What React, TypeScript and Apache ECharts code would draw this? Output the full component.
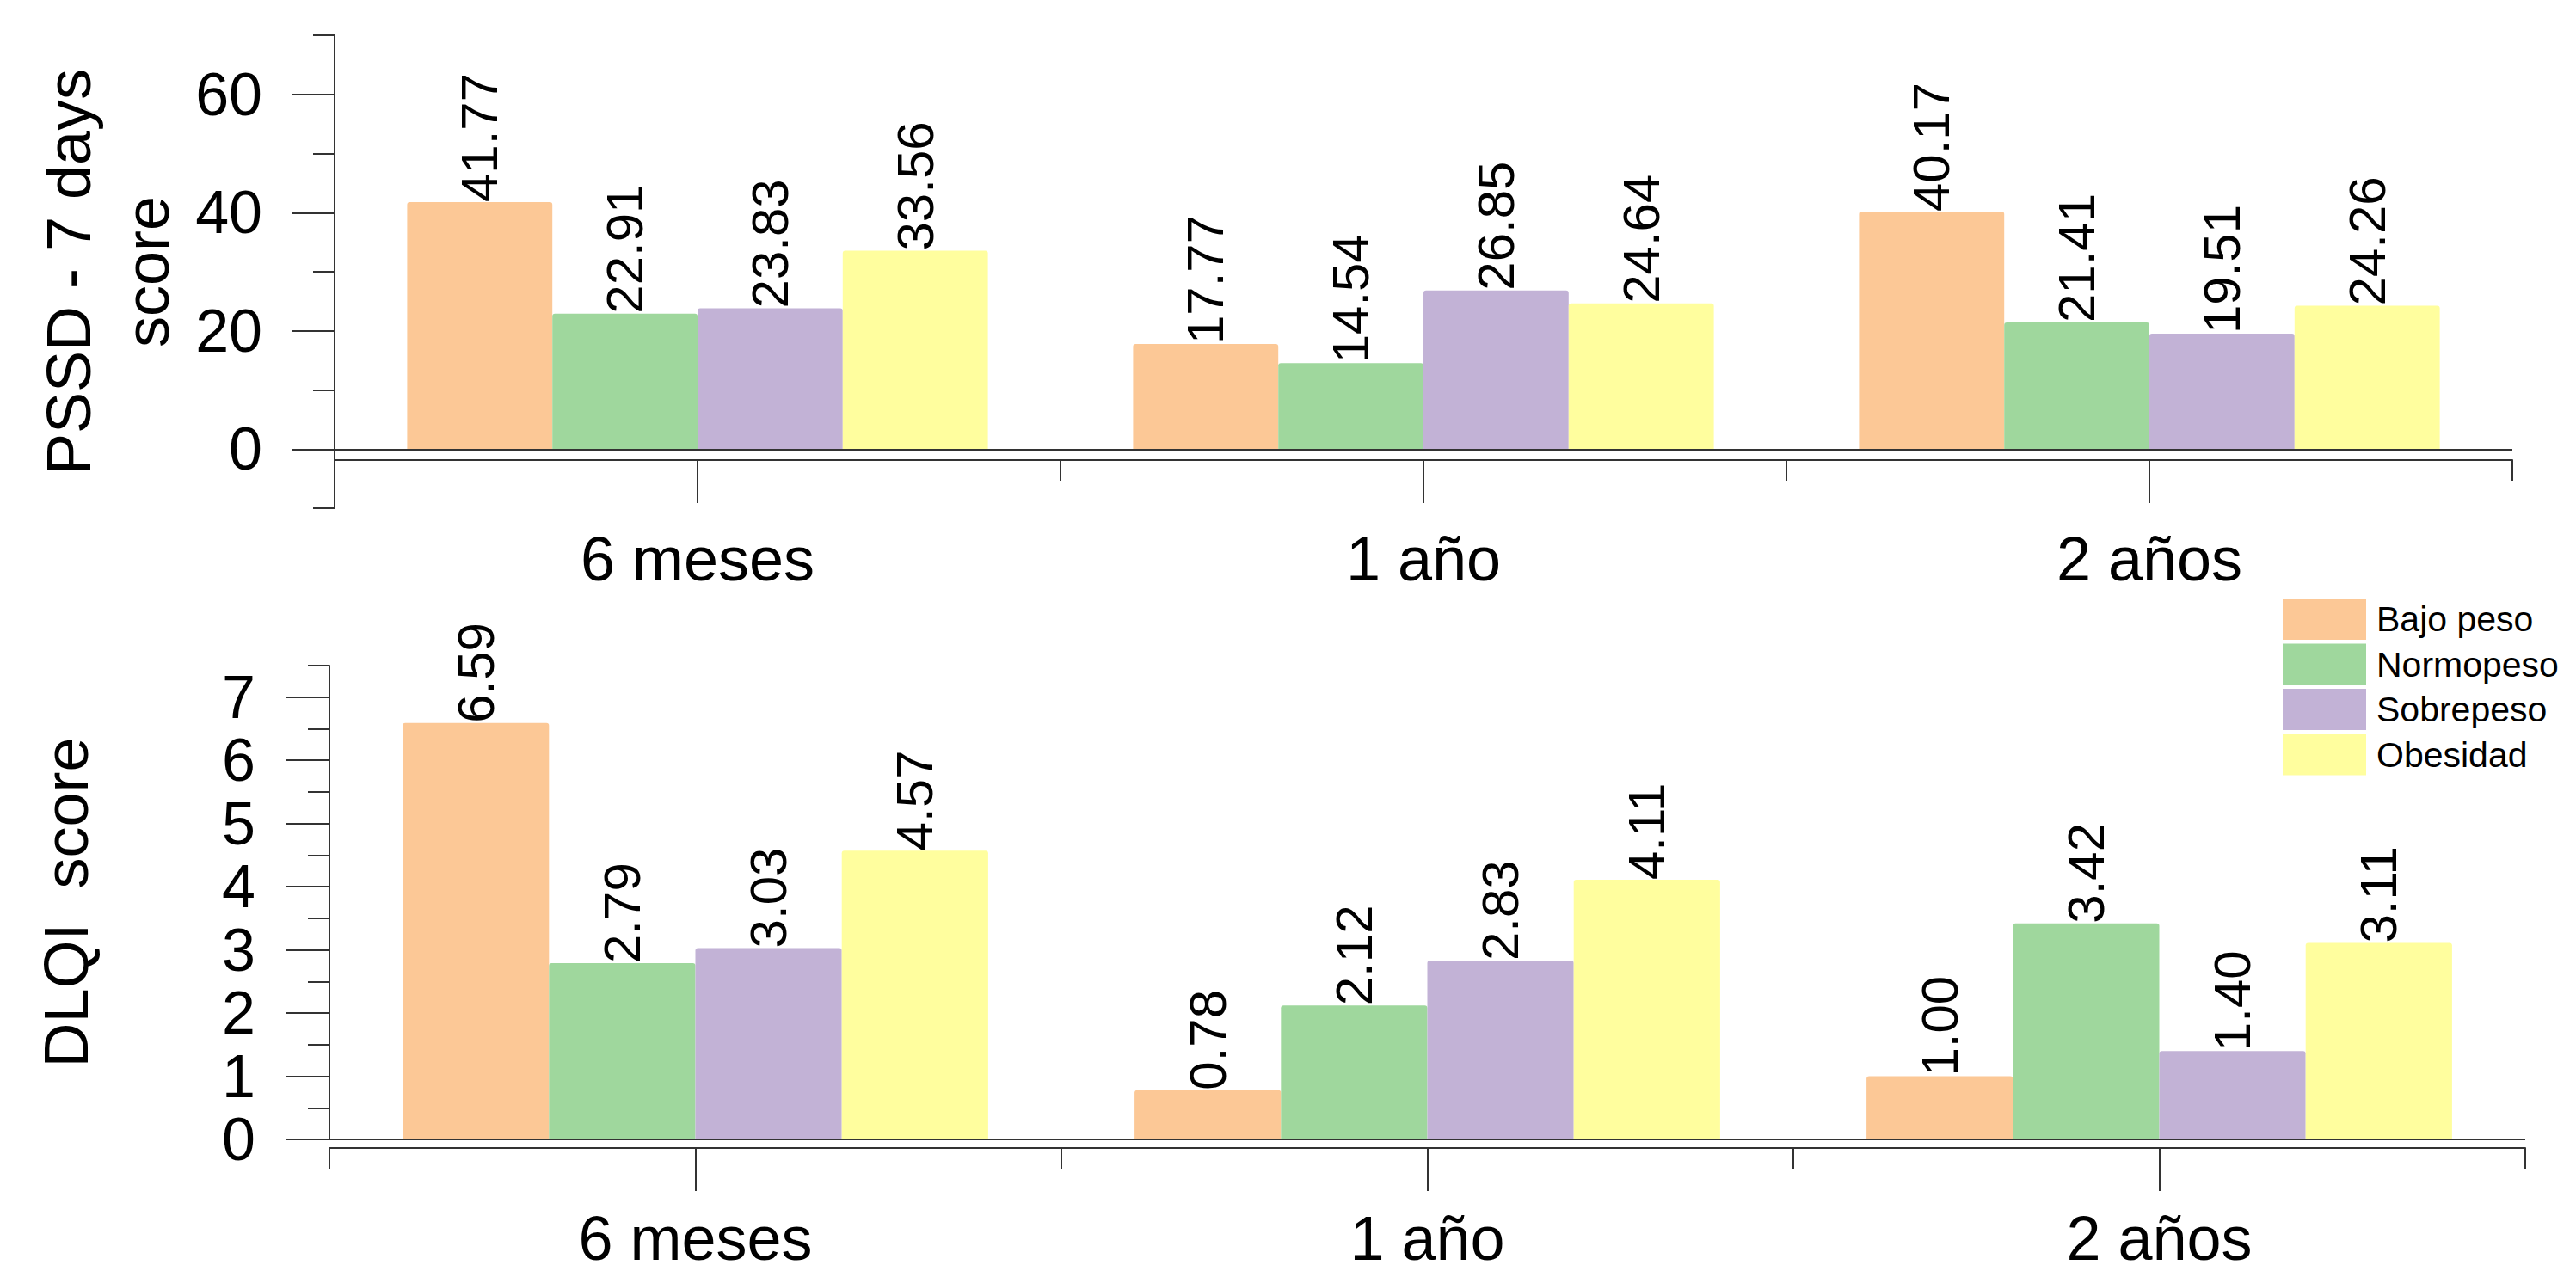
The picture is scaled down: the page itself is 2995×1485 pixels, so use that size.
import React, { useEffect, useRef } from "react";
import * as echarts from "echarts";

const categories = ["6 meses", "1 año", "2 años"];
const groups = ["Bajo peso", "Normopeso", "Sobrepeso", "Obesidad"];
const colors = ["#FCC896", "#9FD79D", "#C2B2D6", "#FFFE9E"];

const pssdBajo = [41.77, 17.77, 40.17];
const pssdNormo = [22.91, 14.54, 21.41];
const pssdSobre = [23.83, 26.85, 19.51];
const pssdObes = [33.56, 24.64, 24.26];

const dlqiBajo = [6.59, 0.78, 1.0];
const dlqiNormo = [2.79, 2.12, 3.42];
const dlqiSobre = [3.03, 2.83, 1.4];
const dlqiObes = [4.57, 4.11, 3.11];

const pssdMajor = [0, 20, 40, 60];
const pssdMinor = [-10, 10, 30, 50, 70];
const dlqiMajor = [0, 1, 2, 3, 4, 5, 6, 7];
const dlqiMinor = [0.5, 1.5, 2.5, 3.5, 4.5, 5.5, 6.5, 7.5];

const FONT = "'Liberation Sans', Arial, sans-serif";
const LINE = "#333";

function buildOption() {
  const pssd = [pssdBajo, pssdNormo, pssdSobre, pssdObes];
  const dlqi = [dlqiBajo, dlqiNormo, dlqiSobre, dlqiObes];

  const zeroLine = {
    silent: true,
    symbol: ["none", "none"],
    label: { show: false },
    lineStyle: { color: LINE, width: 2, type: "solid" },
    data: [{ yAxis: 0 }],
  };

  const mkSeries = (vals: number[], i: number, axisIdx: number) => ({
    type: "bar",
    name: groups[i],
    xAxisIndex: axisIdx,
    yAxisIndex: axisIdx,
    data: vals,
    barGap: "0%",
    barCategoryGap: "20%",
    itemStyle: { color: colors[i], borderRadius: [3, 3, 0, 0] },
    label: {
      show: true,
      position: "top",
      rotate: 90,
      align: "left",
      verticalAlign: "middle",
      distance: 0,
      fontSize: 60,
      fontFamily: FONT,
      color: "#000",
      formatter: (p: any) => Number(p.value).toFixed(2),
    },
    markLine: i === 0 ? zeroLine : undefined,
  });

  const series: any[] = [];
  pssd.forEach((v, i) => series.push(mkSeries(v, i, 0)));
  dlqi.forEach((v, i) => series.push(mkSeries(v, i, 2)));

  const catAxis = (gridIndex: number, withLabels: boolean, offset: number, margin: number) => ({
    type: "category",
    gridIndex,
    data: categories,
    position: "bottom",
    offset,
    axisLine: { show: !withLabels, onZero: false, lineStyle: { color: LINE, width: 2 } },
    axisTick: withLabels
      ? { show: true, alignWithLabel: true, length: 50, lineStyle: { color: LINE, width: 2 } }
      : { show: true, interval: 0, length: 24, lineStyle: { color: LINE, width: 2 } },
    axisLabel: withLabels
      ? {
          show: true,
          fontSize: 72,
          lineHeight: 60,
          fontFamily: FONT,
          color: "#000",
          margin,
          interval: 0,
        }
      : { show: false },
    splitLine: { show: false },
  });

  const valAxis = (
    gridIndex: number,
    min: number,
    max: number,
    major: number[],
    minor: number[],
    isMajor: boolean,
    name: string,
    nameGap: number,
    labelMargin: number
  ) => ({
    type: "value",
    gridIndex,
    min,
    max,
    position: "left",
    axisLine: { show: isMajor, onZero: false, lineStyle: { color: LINE, width: 2 } },
    axisTick: {
      show: true,
      customValues: isMajor ? major : minor,
      length: isMajor ? 50 : 25,
      lineStyle: { color: LINE, width: 2 },
    },
    axisLabel: isMajor
      ? { show: true, customValues: major, fontSize: 70, fontFamily: FONT, color: "#000", margin: labelMargin }
      : { show: false },
    splitLine: { show: false },
    name: isMajor ? name : "",
    nameLocation: "middle",
    nameRotate: 90,
    nameGap,
    nameTextStyle: { fontSize: 72, fontFamily: FONT, color: "#000", lineHeight: 91 },
  });

  return {
    animation: false,
    backgroundColor: "#fff",
    textStyle: { fontFamily: FONT },
    grid: [
      { left: 389, top: 41, width: 2532, height: 550 },
      { left: 383, top: 774, width: 2553, height: 551 },
    ],
    xAxis: [
      catAxis(0, false, -56, 0),
      catAxis(0, true, -56, 85),
      catAxis(1, false, 10, 0),
      catAxis(1, true, 10, 75),
    ],
    yAxis: [
      valAxis(0, -10, 70, pssdMajor, pssdMinor, true, "PSSD - 7 days\nscore", 170, 84),
      valAxis(0, -10, 70, pssdMajor, pssdMinor, false, "", 0, 0),
      valAxis(1, 0, 7.5, dlqiMajor, dlqiMinor, true, "DLQI  score", 261, 86),
      valAxis(1, 0, 7.5, dlqiMajor, dlqiMinor, false, "", 0, 0),
    ],
    legend: {
      show: true,
      data: groups,
      orient: "vertical",
      left: 2654,
      top: 696,
      padding: 0,
      itemWidth: 97,
      itemHeight: 48,
      itemGap: 4.5,
      icon: "rect",
      textStyle: { fontSize: 41, fontFamily: FONT, color: "#000", padding: [0, 0, 0, 7] },
    },
    series,
  };
}

export default function App() {
  const ref = useRef<HTMLDivElement | null>(null);
  useEffect(() => {
    if (!ref.current) return;
    const chart = echarts.init(ref.current, null, { renderer: "svg" });
    chart.setOption(buildOption() as any);
    return () => chart.dispose();
  }, []);
  return (
    <div
      ref={ref}
      style={{ position: "fixed", left: 0, top: 0, width: 2995, height: 1485, background: "#fff" }}
    />
  );
}
